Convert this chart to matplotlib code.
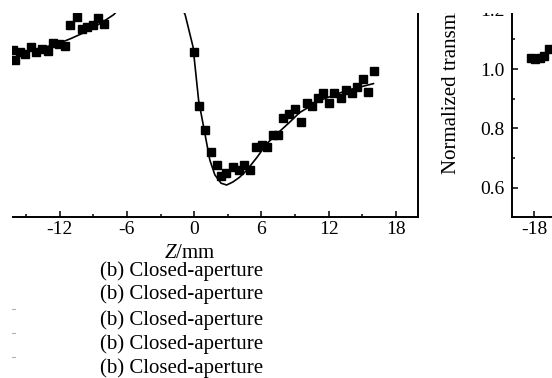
import matplotlib
matplotlib.use("Agg")
import matplotlib.pyplot as plt
from matplotlib.patches import Rectangle
from matplotlib.lines import Line2D
from matplotlib.ticker import MultipleLocator

plt.rcParams['font.family'] = ['Liberation Serif', 'DejaVu Serif']
plt.rcParams['mathtext.fontset'] = 'custom'
plt.rcParams['mathtext.it'] = 'Liberation Serif:italic'
plt.rcParams['mathtext.rm'] = 'Liberation Serif'
plt.rcParams['axes.unicode_minus'] = False

# ---- data: closed-aperture Z-scan (panel b) ----
z_meas = [-16.14, -15.97, -15.52, -15.08, -14.54, -14.10, -13.56, -13.03, -12.58, -12.05,
          -11.51, -11.07, -10.45, -10.00, -9.55, -9.02, -8.58, -8.04,
          -0.03, 0.42, 0.95, 1.48, 2.02, 2.38, 2.82, 3.45, 3.98, 4.43, 4.96,
          5.49, 6.03, 6.47, 7.01, 7.45, 7.90, 8.43, 8.97, 9.50, 10.04, 10.48,
          11.02, 11.46, 12.00, 12.45, 13.07, 13.51, 14.05, 14.49, 15.03, 15.48, 16.01]
t_meas = [1.066, 1.029, 1.059, 1.052, 1.073, 1.056, 1.069, 1.062, 1.089, 1.086,
          1.079, 1.150, 1.177, 1.136, 1.143, 1.150, 1.173, 1.153,
          1.056, 0.875, 0.795, 0.721, 0.678, 0.641, 0.651, 0.671, 0.661, 0.678, 0.658,
          0.738, 0.745, 0.738, 0.778, 0.778, 0.834, 0.850, 0.867, 0.820, 0.887, 0.877,
          0.904, 0.921, 0.884, 0.918, 0.904, 0.928, 0.921, 0.941, 0.968, 0.924, 0.992]

z_fit = [-16.5, -15, -13.5, -12, -11, -10, -9, -8, -7.2, -6.5, -5.5, -4.5, -3.5, -2.5,
         -1.5, -0.8, -0.1, 0.4, 0.95, 1.4, 1.85, 2.4, 2.9, 3.45, 4.05, 4.7, 5.6, 6.5,
         7.4, 8.5, 9.4, 11.2, 13.6, 16.0]
t_fit = [1.05, 1.06, 1.072, 1.088, 1.103, 1.12, 1.14, 1.163, 1.183, 1.21, 1.26, 1.30,
         1.32, 1.30, 1.24, 1.183, 1.075, 0.894, 0.784, 0.693, 0.643, 0.615, 0.609,
         0.619, 0.635, 0.659, 0.702, 0.749, 0.782, 0.82, 0.853, 0.894, 0.928, 0.951]

# next panel (partially visible)
z_next = [-18.3, -17.9, -17.5, -17.1, -16.7]
t_next = [1.038, 1.034, 1.036, 1.044, 1.069]

x_ticks_left = [-12, -6, 0, 6, 12, 18]
x_ticks_right = [-18]
y_ticks = [0.6, 0.8, 1.0, 1.2]
caption = "(b) Closed-aperture"

W, H = 552, 378
fig = plt.figure(figsize=(W / 100, H / 100), dpi=100)

def fx(px):
    return px / W

def fy(py):
    return 1 - py / H

ax_b, ax_t = 217.3, 9.8
ax = fig.add_axes([fx(-30), fy(ax_b), 448.3 / W, (ax_b - ax_t) / H])
ax2 = fig.add_axes([fx(511.7), fy(ax_b), 448.3 / W, (ax_b - ax_t) / H])

for a, xt in ((ax, x_ticks_left), (ax2, x_ticks_right)):
    a.set_xlim(-20, 20)
    a.set_ylim(0.5, 1.2)
    a.xaxis.set_minor_locator(MultipleLocator(3))
    a.set_xticks(xt)
    a.set_xticklabels([str(v) for v in xt])
    a.tick_params(axis='both', which='major', direction='in', length=4.5, width=1.1,
                  labelsize=14, pad=3)
    a.tick_params(axis='both', which='minor', direction='in', length=2.3, width=1.1)
    a.spines['top'].set_visible(False)
    for s in ('left', 'right', 'bottom'):
        a.spines[s].set_linewidth(1.4)

ax.tick_params(axis='y', which='both', left=False, right=False, labelleft=False)
ax.plot(z_fit, t_fit, color='black', lw=1.2, zorder=2)
ax.plot(z_meas, t_meas, ls='none', marker='s', ms=5.6, color='black', zorder=3)

ax2.set_yticks(y_ticks)
ax2.set_yticklabels(["%.1f" % v for v in y_ticks])
ax2.yaxis.set_minor_locator(MultipleLocator(0.1))
ax2.tick_params(axis='y', which='major', pad=5)
ax2.spines['right'].set_visible(False)
ax2.plot(z_next, t_next, ls='none', marker='s', ms=5.6, color='black', zorder=3)

fig.text(fx(190), fy(253), r"$\mathit{Z}$/mm", fontsize=15, ha='center', va='center')
for yy in (271.5, 294.5, 320, 344, 368):
    fig.text(fx(182), fy(yy), caption, fontsize=15, ha='center', va='center')

fig.text(fx(452), fy(173.5), "Normalized transmittance", fontsize=15, rotation=90,
         ha='center', va='bottom')

# crop margins of the source picture
fig.add_artist(Rectangle((0, fy(13)), 1, 1 - fy(13), transform=fig.transFigure,
                         facecolor='white', edgecolor='none', zorder=100))
fig.add_artist(Rectangle((0, 0), fx(12), 1, transform=fig.transFigure,
                         facecolor='white', edgecolor='none', zorder=100))
for yy in (309, 333, 357):
    fig.add_artist(Line2D([fx(12), fx(15)], [fy(yy), fy(yy)], transform=fig.transFigure,
                          color='#b0b0b0', lw=0.8, zorder=101))

fig.savefig("out.png", dpi=100, facecolor='white')
